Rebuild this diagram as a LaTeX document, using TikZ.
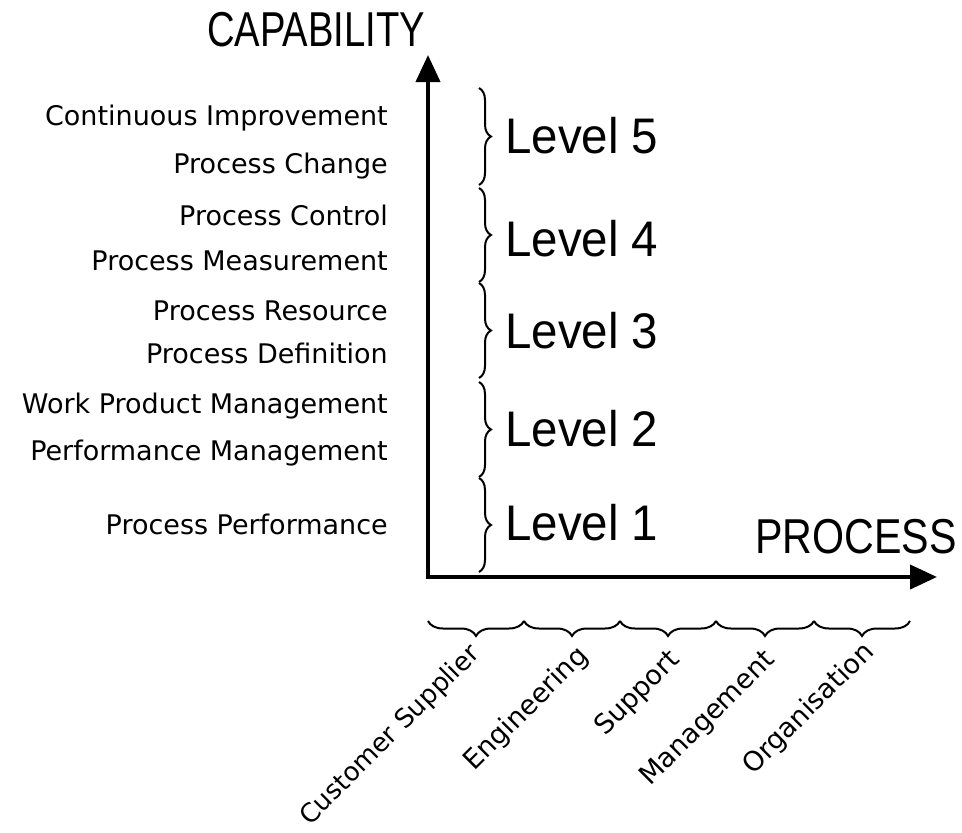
\documentclass[tikz,border=0pt]{standalone}
\usepackage{fontspec}
\setmainfont{DejaVu Sans}
\newfontfamily\capfontA[FakeStretch=0.78]{Liberation Sans}
\newfontfamily\capfontB[FakeStretch=0.84]{Liberation Sans}
\newfontfamily\levelfont[FakeStretch=0.95]{Liberation Sans}
\usetikzlibrary{arrows.meta,decorations.pathreplacing}
\begin{document}
\begin{tikzpicture}[x=1pt,y=-1pt,
  axis/.style={line width=4pt,{Triangle[length=27pt,width=24pt]}-{Triangle[length=27pt,width=24pt]}},
  vbrace/.style={line width=2pt,decorate,decoration={brace,amplitude=12pt}},
  hbrace/.style={line width=2pt,decorate,decoration={brace,mirror,amplitude=15pt}},
  attr/.style={anchor=base east,inner sep=0pt,font=\fontsize{27}{27}\selectfont},
  lvl/.style={anchor=base west,inner sep=0pt,font=\levelfont\fontsize{50}{50}\selectfont},
  cat/.style={anchor=east,rotate=45,inner sep=0pt,font=\fontsize{27}{27}\selectfont},
  axlabel/.style={anchor=base west,inner sep=0pt}]
\useasboundingbox (0,0) rectangle (962,833);

% axes
\coordinate (O) at (428,577);
\coordinate (ytip) at (428,55);
\coordinate (xtip) at (937,577);
\draw[axis] (ytip) -- (O) -- (xtip);

\node[axlabel,font=\capfontA\fontsize{49}{49}\selectfont] (cap) at (207,46) {CAPABILITY};
\node[axlabel,font=\capfontB\fontsize{49}{49}\selectfont] (proc) at (755,553) {PROCESS};

% attributes
\node[attr] (a1) at (388,125) {Continuous Improvement};
\node[attr] (a2) at (388,173) {Process Change};
\node[attr] (a3) at (388,225) {Process Control};
\node[attr] (a4) at (388,270) {Process Measurement};
\node[attr] (a5) at (388,320) {Process Resource};
\node[attr] (a6) at (388,363) {Process Definition};
\node[attr] (a7) at (388,413) {Work Product Management};
\node[attr] (a8) at (388,460) {Performance Management};
\node[attr] (a9) at (388,534) {Process Performance};

% level braces
\draw[vbrace] (479,88) -- (479,185);
\draw[vbrace] (479,188) -- (479,282);
\draw[vbrace] (479,283) -- (479,378);
\draw[vbrace] (479,382) -- (479,477);
\draw[vbrace] (479,478) -- (479,572);

\node[lvl] (l5) at (505,153) {Level 5};
\node[lvl] (l4) at (505,256) {Level 4};
\node[lvl] (l3) at (505,348) {Level 3};
\node[lvl] (l2) at (505,446) {Level 2};
\node[lvl] (l1) at (505,540) {Level 1};

% process braces
\draw[hbrace] (428,621) -- (524,621);
\draw[hbrace] (524,621) -- (620,621);
\draw[hbrace] (620,621) -- (716,621);
\draw[hbrace] (716,621) -- (814,621);
\draw[hbrace] (814,621) -- (910,621);

\node[cat,font=\fontsize{26}{26}\selectfont] (p1) at (476,650) {Customer Supplier};
\node[cat] (p2) at (584,652) {Engineering};
\node[cat] (p3) at (676,656) {Support};
\node[cat] (p4) at (771,656) {Management};
\node[cat] (p5) at (870,648) {Organisation};
\end{tikzpicture}
\end{document}
